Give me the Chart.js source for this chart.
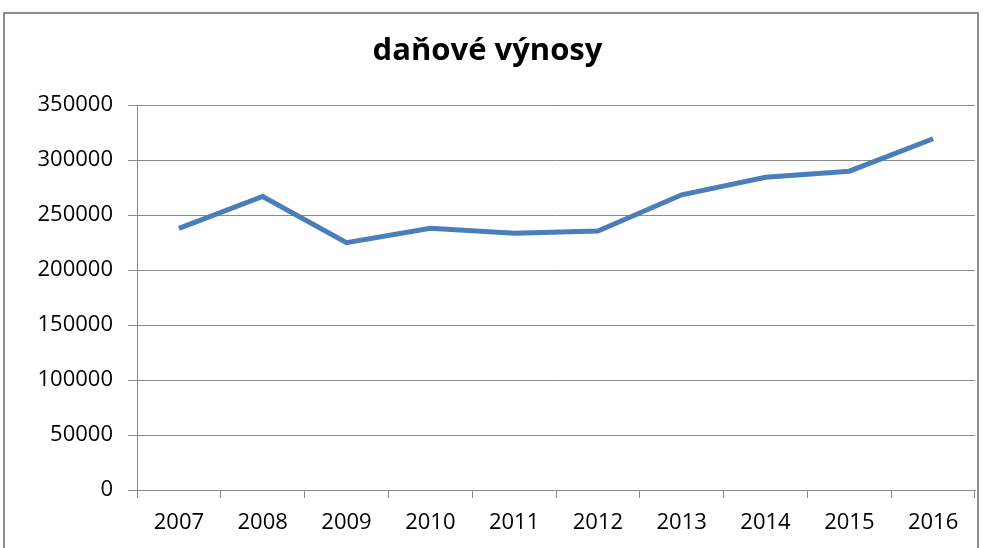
<!DOCTYPE html>
<html>
<head>
<meta charset="utf-8">
<script src="https://cdn.jsdelivr.net/npm/chart.js@4"></script>
<style>
  html, body { margin: 0; padding: 0; background: #fff; }
  #frame {
    position: absolute; left: 3px; top: 12px; width: 976px; height: 600px;
    border: 2px solid #8c8c8c; box-sizing: border-box;
  }
  #wrap { position: absolute; left: 0; top: 0; width: 983px; height: 548px; }
</style>
</head>
<body>
<div id="frame"></div>
<div id="wrap"><canvas id="chart" width="983" height="548"></canvas></div>
<script>
// ── Data ──
var years = ['2007', '2008', '2009', '2010', '2011', '2012', '2013', '2014', '2015', '2016'];
var taxRevenue = [238000, 267000, 225000, 238000, 233500, 235500, 268500, 284500, 290000, 319500];
var yTicks = [0, 50000, 100000, 150000, 200000, 250000, 300000, 350000];

var gridGray = '#8a8a8a';
var labelFont = { family: "'Open Sans', 'Noto Sans', sans-serif", size: 22 };

new Chart(document.getElementById('chart').getContext('2d'), {
  type: 'line',
  data: {
    labels: years,
    datasets: [{
      label: 'daňové výnosy',
      data: taxRevenue,
      borderColor: '#4A7EBB',
      borderWidth: 5,
      pointRadius: 0,
      tension: 0,
      fill: false
    }]
  },
  options: {
    responsive: false,
    animation: false,
    layout: { padding: { left: 0, right: 8, top: 0, bottom: 0 } },
    plugins: {
      legend: { display: false },
      tooltip: { enabled: false },
      title: {
        display: true,
        text: 'daňové výnosy',
        color: '#000',
        font: { family: "'Open Sans', 'Noto Sans', sans-serif", size: 31, weight: 'bold', lineHeight: 1.2 },
        padding: { top: 33, bottom: 35 }
      }
    },
    scales: {
      x: {
        offset: true,
        grid: { display: true, offset: true, drawOnChartArea: false, drawTicks: true, tickLength: 8, color: gridGray },
        border: { display: true, color: gridGray, width: 1 },
        ticks: { color: '#000', font: labelFont, padding: 12, maxRotation: 0 },
        afterFit: function (scale) { scale.height = 58; }
      },
      y: {
        min: 0,
        max: 350000,
        afterBuildTicks: function (scale) {
          scale.ticks = yTicks.map(function (v) { return { value: v }; });
        },
        grid: { color: gridGray, tickLength: 9, drawTicks: true },
        border: { display: true, color: gridGray, width: 1 },
        ticks: {
          color: '#000', font: labelFont, padding: 15,
          callback: function (v) { return String(v); }
        },
        afterFit: function (scale) { scale.width = 137; }
      }
    }
  }
});
</script>
</body>
</html>
